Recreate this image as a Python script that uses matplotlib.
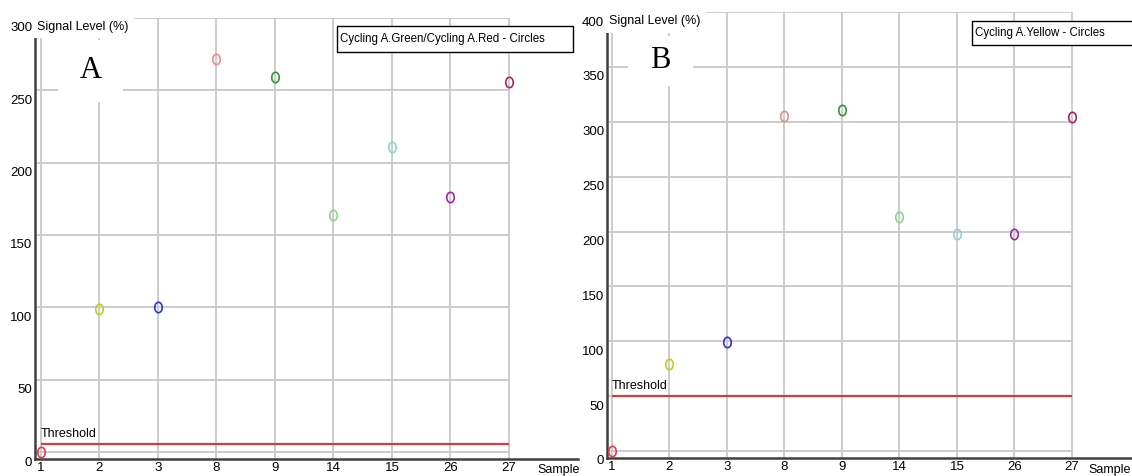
"""Signal level per sample, two cycling channels (panels A and B)."""

import matplotlib
matplotlib.use("Agg")
import matplotlib.pyplot as plt
from matplotlib.patches import Rectangle
from matplotlib.path import Path
from matplotlib.transforms import Affine2D, ScaledTranslation

plt.rcParams["font.family"] = ["Liberation Sans", "DejaVu Sans"]

# ---------------------------------------------------------------------------
# Data
# ---------------------------------------------------------------------------
samples = ["1", "2", "3", "8", "9", "14", "15", "26", "27"]
point_colors = ["#d8404c", "#c8c828", "#3434c0", "#e88c8c", "#2e9a2e",
                "#8cd48c", "#8cd4d4", "#a028a0", "#a02868"]

signal_a = [0, 99, 100, 272, 259, 164, 211, 176, 256]
threshold_a = 5.5
yticks_a = [0, 50, 100, 150, 200, 250, 300]
legend_a = "Cycling A.Green/Cycling A.Red - Circles"

signal_b = [0, 79, 99, 305, 311, 213, 198, 198, 304]
threshold_b = 50
yticks_b = [0, 50, 100, 150, 200, 250, 300, 350, 400]
legend_b = "Cycling A.Yellow - Circles"

W, H = 1132, 476
GRID = "#c8c8c8"
AXIS = "#404040"
RED = "#d23c3c"

# tall open ellipse, like the instrument's markers
ELLIPSE = Path.unit_circle().transformed(Affine2D().scale(0.72, 1.0))


def fx(px):
    return px / W


def fy(py):
    return 1 - py / H


def draw_panel(fig, box, xlim, ylim, yticks, values, threshold, letter, letter_box,
               legend, legend_box, sample_x):
    left, top, right, bottom = box
    ax = fig.add_axes([fx(left), fy(bottom), fx(right) - fx(left), fy(top) - fy(bottom)])
    ax.set_xlim(*xlim)
    ax.set_ylim(*ylim)
    last = len(samples) - 1

    # grid: horizontal lines stop at the last sample, vertical lines at each sample
    ax.hlines(yticks, xlim[0], last, color=GRID, lw=1.3, zorder=1)
    ax.vlines(range(len(samples)), ylim[0], ylim[1], color=GRID, lw=1.3, zorder=1)

    ax.hlines(threshold, 0, last, color=RED, lw=1.6, zorder=2)
    ax.text(0, threshold, "Threshold", fontsize=9, va="bottom", ha="left",
            transform=ax.transData + ScaledTranslation(0, 0.04, fig.dpi_scale_trans))

    for i, (v, c) in enumerate(zip(values, point_colors)):
        ax.plot(i, v, marker=ELLIPSE, ms=7.5, mfc="none", mec=c, mew=1.2,
                ls="none", zorder=3, clip_on=False)

    for s in ("top", "right"):
        ax.spines[s].set_visible(False)
    for s in ("left", "bottom"):
        ax.spines[s].set_color(AXIS)
        ax.spines[s].set_linewidth(1.8)

    ax.set_xticks(range(len(samples)))
    ax.set_xticklabels(samples)
    ax.set_yticks(yticks)
    ax.tick_params(length=0, labelsize=9.5, pad=2)
    shift = ScaledTranslation(0, -0.09, fig.dpi_scale_trans)
    for lab in ax.get_yticklabels():
        lab.set_transform(lab.get_transform() + shift)

    ax.text(0.004, yticks[-1], "Signal Level (%)", fontsize=9, ha="left", va="center",
            transform=ax.get_yaxis_transform() + shift, zorder=5,
            bbox=dict(facecolor="white", edgecolor="none", pad=4))

    # white patch with the panel letter
    lx0, ly0, lx1, ly1 = letter_box
    fig.add_artist(Rectangle((fx(lx0), fy(ly1)), fx(lx1) - fx(lx0), fy(ly0) - fy(ly1),
                             transform=fig.transFigure, facecolor="white",
                             edgecolor="none", zorder=4))
    fig.text(fx((lx0 + lx1) / 2), fy((ly0 + ly1) / 2), letter, fontsize=22,
             family="Liberation Serif", ha="center", va="center", zorder=5)

    bx0, by0, bx1, by1 = legend_box
    fig.add_artist(Rectangle((fx(bx0), fy(by1)), fx(bx1) - fx(bx0), fy(by0) - fy(by1),
                             transform=fig.transFigure, facecolor="white",
                             edgecolor="black", lw=1.0, zorder=4))
    fig.text(fx(bx0 + 3), fy((by0 + by1) / 2), legend, fontsize=8.3,
             ha="left", va="center", zorder=5)

    fig.text(fx(sample_x), fy(470), "Sample", fontsize=9, ha="left", va="center")
    return ax


fig = plt.figure(figsize=(W / 100, H / 100), dpi=100)

# panel A: y=0 sits at px 452, 300 at px 18; sample 1 at px 40.7, sample 27 at px 509
sx_a = (509 - 40.7) / 8
sy_a = (452 - 18) / 300
draw_panel(fig, (35, 18, 578, 459),
           (-(40.7 - 35) / sx_a, 8 + (578 - 509) / sx_a),
           (-(459 - 452) / sy_a, 300),
           yticks_a, signal_a, threshold_a, "A", (58, 40, 123, 102),
           legend_a, (337, 26, 573, 52), 537)

# panel B: y=0 at px 451, 400 at px 12; sample 1 at px 611.7, sample 27 at px 1072
sx_b = (1072 - 611.7) / 8
sy_b = (451 - 12) / 400
draw_panel(fig, (607, 12, 1132, 458),
           (-(611.7 - 607) / sx_b, 8 + (1132 - 1072) / sx_b),
           (-(458 - 451) / sy_b, 400),
           yticks_b, signal_b, threshold_b, "B", (628, 36, 693, 86),
           legend_b, (972, 21, 1140, 45), 1088)

fig.savefig("out.png", dpi=100)
plt.close(fig)
